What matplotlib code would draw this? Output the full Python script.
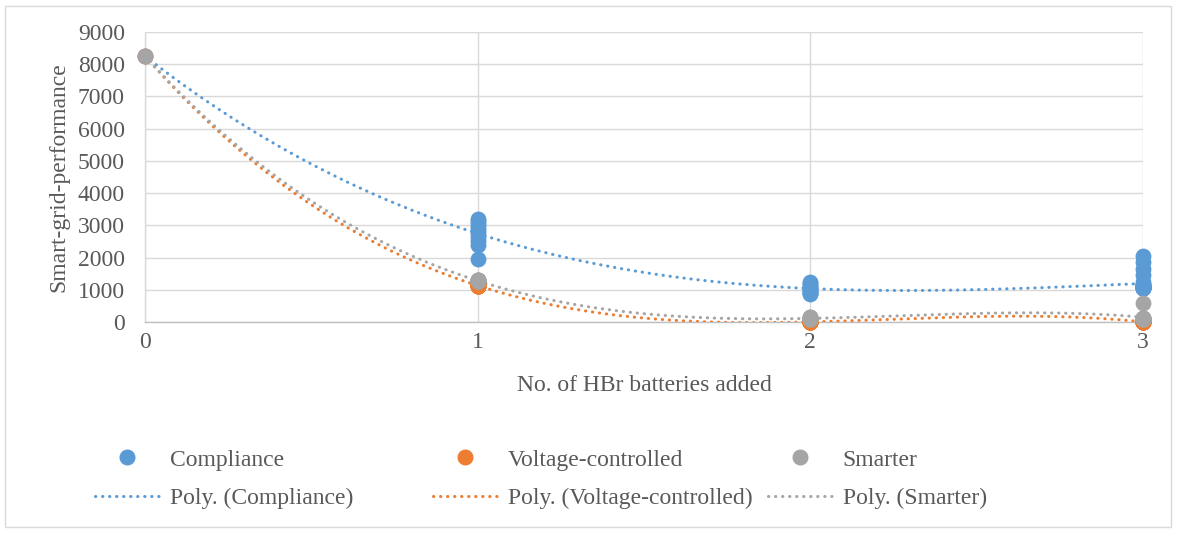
import numpy as np
import matplotlib
matplotlib.use("Agg")
import matplotlib.pyplot as plt
from matplotlib.lines import Line2D
from matplotlib.patches import Rectangle

plt.rcParams['font.family'] = ['Liberation Serif', 'DejaVu Serif']

# ---- data ----
compliance_x = [0] + [1]*10 + [2]*10 + [3]*28
compliance_y = [8250,
                3200, 3150, 3050, 2950, 2850, 2750, 2650, 2500, 2400, 1950,
                1250, 1200, 1150, 1100, 1050, 1000, 950, 900, 900, 880,
                2050, 1850, 1650, 1450, 1250,
                1150, 1150, 1150, 1120, 1120, 1120, 1100, 1100, 1100, 1100, 1100,
                1100, 1100, 1100, 1080, 1080, 1080, 1080, 1060, 1060, 1060, 1050, 1050]
voltage_x = [0] + [1]*10 + [2]*10 + [3]*10
voltage_y = [8250,
             1150, 1150, 1140, 1140, 1130, 1130, 1120, 1120, 1110, 1110,
             10, 10, 5, 5, 0, 0, 0, 0, 0, 0,
             20, 10, 10, 5, 5, 0, 0, 0, 0, 0]
smarter_x = [0] + [1]*10 + [2]*10 + [3]*10
smarter_y = [8250,
             1300, 1300, 1290, 1290, 1280, 1280, 1270, 1270, 1260, 1260,
             150, 140, 130, 120, 110, 100, 100, 90, 90, 80,
             590, 130, 120, 110, 100, 100, 90, 90, 80, 80]

series_names = ['Compliance', 'Voltage-controlled', 'Smarter']
colors = ['#5B9BD5', '#ED7D31', '#A5A5A5']
x_ticks = [0, 1, 2, 3]
y_ticks = [0, 1000, 2000, 3000, 4000, 5000, 6000, 7000, 8000, 9000]

W, H, DPI = 1177, 533, 100
fig = plt.figure(figsize=(W/DPI, H/DPI), dpi=DPI)
fig.patches.append(Rectangle((5/W, 6/H), 1166/W, 521/H, transform=fig.transFigure,
                             fill=False, edgecolor='#D9D9D9', linewidth=1.0))

ax = fig.add_axes([145/W, 1-322/H, (1143-145)/W, (322-32)/H])
ax.set_xlim(0, 3)
ax.set_ylim(0, 9000)

textc = '#595959'
gridc = '#D9D9D9'
for s in ['top', 'right']:
    ax.spines[s].set_visible(False)
ax.spines['left'].set_color(gridc)
ax.spines['bottom'].set_color('#BFBFBF')
ax.spines['left'].set_linewidth(1.0)
ax.spines['bottom'].set_linewidth(1.0)
ax.grid(True, color=gridc, linewidth=1.0)
ax.set_axisbelow(True)
ax.set_xticks(x_ticks)
ax.set_yticks(y_ticks)
ax.tick_params(length=0, labelsize=17, colors=textc)
ax.tick_params(axis='y', pad=14.5)
ax.tick_params(axis='x', pad=7)
ax.set_xlabel('No. of HBr batteries added', fontsize=17, color=textc, labelpad=16)
ax.set_ylabel('Smart-grid-performance', fontsize=17, color=textc, labelpad=6)

xs_all = [compliance_x, voltage_x, smarter_x]
ys_all = [compliance_y, voltage_y, smarter_y]
xf = np.linspace(0, 3, 300)
scat_handles, line_handles = [], []
for xs, ys, c, name in zip(xs_all, ys_all, colors, series_names):
    coef = np.polyfit(xs, ys, 3)
    ax.plot(xf, np.polyval(coef, xf), color=c, linewidth=2.2,
            linestyle=(0, (0.1, 2.2)), dash_capstyle='round', zorder=3)
    ax.scatter(xs, ys, s=130, color=c, zorder=4, clip_on=False, linewidths=0)
    scat_handles.append(Line2D([], [], marker='o', linestyle='none', color=c,
                               markersize=10.5, label=name))
    line_handles.append(Line2D([], [], color=c, linewidth=2.2,
                               linestyle=(0, (0.1, 2.2)), dash_capstyle='round',
                               label=f'Poly. ({name})'))

# legend: three columns, each a 2-row legend
col_x = [95, 433, 768]
for i in range(3):
    leg = fig.legend(handles=[scat_handles[i], line_handles[i]],
                     loc='upper left', bbox_to_anchor=(col_x[i]/W, 1-449/H),
                     frameon=False, fontsize=17, labelcolor=textc,
                     handlelength=2.75, handletextpad=0.42, labelspacing=0.72,
                     borderaxespad=0, borderpad=0)

fig.savefig('out.png', dpi=DPI)
